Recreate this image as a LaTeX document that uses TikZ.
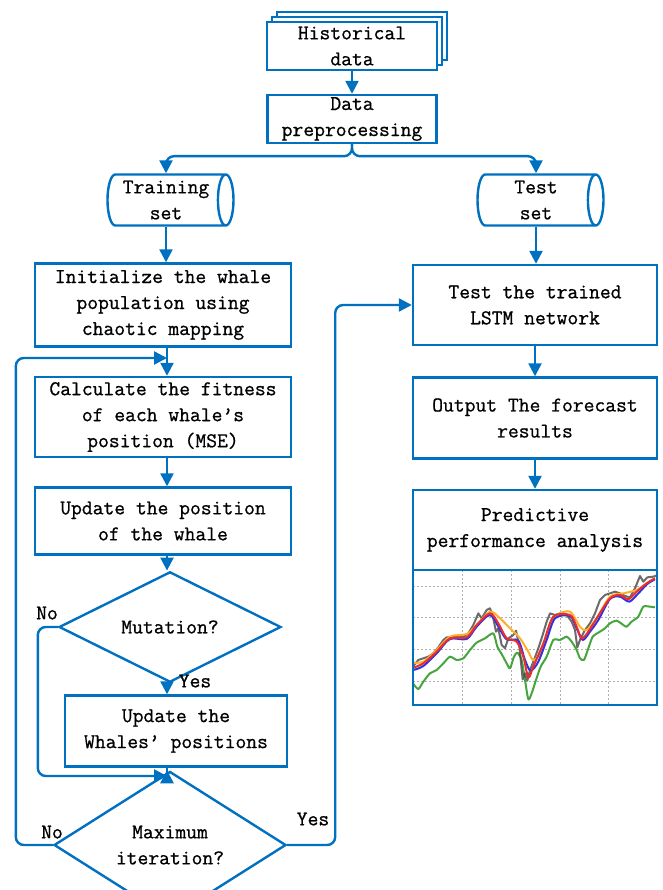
\documentclass[tikz,border=0pt]{standalone}
\usepackage{fontspec}
\usepackage{xcolor}
\usepackage{tikz}
\usetikzlibrary{shapes,arrows.meta,positioning,calc}

\newfontfamily\flowfont{Latin Modern Mono}[FakeBold=0.8]

\definecolor{flowblue}{RGB}{0,112,192}
\definecolor{gridgray}{RGB}{175,175,175}
\definecolor{cgreen}{RGB}{70,165,60}
\definecolor{cred}{RGB}{235,45,45}
\definecolor{cblue}{RGB}{50,50,225}
\definecolor{corange}{RGB}{255,175,45}
\definecolor{cblack}{RGB}{70,70,70}

\begin{document}
\begin{tikzpicture}[
    x=1pt, y=-1pt,
    font=\flowfont\fontsize{21}{26}\selectfont,
    box/.style={rectangle, draw=flowblue, line width=2.4pt, fill=white, text centered, align=center, inner sep=0pt},
    store/.style={cylinder, draw=flowblue, line width=2.4pt, align=center, inner sep=0pt, aspect=0.4, minimum width=51pt, minimum height=126pt},
    decision/.style={diamond, draw=flowblue, line width=2.4pt, align=center, inner sep=0pt},
    arrow/.style={-{Triangle[length=13pt,width=13pt]}, draw=flowblue, line width=2.4pt},
    link/.style={draw=flowblue, line width=2.4pt},
    lbl/.style={inner sep=0pt},
    gridline/.style={draw=gridgray, line width=0.8pt, dash pattern=on 2pt off 2pt},
    curve/.style={line width=2pt, line join=round}
]
\useasboundingbox (0,0) rectangle (662,890);

% Historical data (stacked)
\node[box, minimum width=170pt, minimum height=48pt] (hist2) at (362,36) {};
\node[box, minimum width=170pt, minimum height=48pt] (hist1) at (357,41) {};
\node[box, minimum width=170pt, minimum height=48pt] (hist) at (352,46) {Historical\\data};
\node[box, minimum width=169pt, minimum height=48pt] (prep) at (352,119) {Data\\preprocessing};

% Data sets
\node[store] (train) at (166,200) {Training\\set};
\node[store] (test) at (536,200) {Test\\set};

% Whale optimisation loop
\coordinate (mergeA) at (167,358);
\coordinate (mergeB) at (167,776);
\node[box, minimum width=256pt, minimum height=83pt] (init) at (163,305) {Initialize the whale\\population using\\chaotic mapping};
\node[box, minimum width=256pt, minimum height=80pt] (calc) at (163,417) {Calculate the fitness\\of each whale’s\\position (MSE)};
\node[box, minimum width=256pt, minimum height=67pt] (upd) at (163,521) {Update the position\\of the whale};
\node[decision, minimum width=222pt, minimum height=89pt] (mut) at (170,627) {Mutation?};
\node[box, minimum width=222pt, minimum height=71pt] (whales) at (176,731) {Update the\\Whales’ positions};
\node[decision, minimum width=232pt, minimum height=94pt] (maxit) at (170,845) {Maximum\\iteration?};

% Forecasting
\node[box, minimum width=244pt, minimum height=80pt] (ttest) at (535,305) {Test the trained\\LSTM network};
\node[box, minimum width=244pt, minimum height=81pt] (out) at (535,418) {Output The forecast\\results};
\node[box, minimum width=244pt, minimum height=80pt] (pred) at (535,530) {Predictive\\performance analysis};

% Result chart
\begin{scope}
\clip (413,570) rectangle (657,705);
\begin{scope}[shift={(410,560)}, x=0.3333pt, y=-0.3333pt]
\foreach \gx in {158,305,450,595} \draw[gridline] (\gx,30) -- (\gx,440);
\foreach \gy in {80,172,268,363} \draw[gridline] (10,\gy) -- (745,\gy);
\draw[curve, cgreen] plot[smooth, tension=0.4] coordinates {(10,372) (25,387) (40,365) (60,340) (80,330) (100,310) (120,290) (140,300) (160,295) (180,270) (200,248) (225,235) (250,220) (262,260) (275,282) (290,310) (300,325) (312,290) (322,278) (335,300) (345,360) (355,418) (365,400) (378,360) (392,320) (410,290) (430,240) (450,240) (470,230) (485,245) (500,270) (510,295) (522,300) (535,265) (548,230) (565,218) (585,205) (600,190) (620,182) (640,195) (650,200) (665,185) (685,170) (700,140) (720,140) (735,142)};
\draw[curve, cblack, opacity=0.8] plot coordinates {(10,318) (25,300) (40,295) (55,290) (70,280) (85,262) (100,240) (110,232) (125,232) (140,228) (160,230) (175,220) (190,195) (205,160) (215,175) (230,150) (240,145) (250,175) (258,215) (265,205) (275,255) (285,265) (295,235) (310,225) (318,212) (328,258) (338,358) (345,340) (352,362) (360,330) (372,300) (385,265) (398,225) (410,185) (420,160) (435,165) (450,160) (470,165) (485,185) (495,210) (502,262) (510,240) (525,210) (540,190) (555,160) (570,120) (585,105) (600,100) (615,95) (630,100) (645,108) (660,112) (675,85) (690,48) (700,65) (712,52) (730,50) (745,45)};
\draw[curve, corange] plot[smooth, tension=0.5] coordinates {(10,308) (40,305) (80,270) (120,230) (170,222) (200,195) (240,155) (270,175) (300,205) (330,235) (355,275) (370,300) (395,275) (420,200) (440,165) (480,155) (510,200) (530,210) (560,175) (600,110) (640,100) (680,90) (710,70) (735,55)};
\draw[curve, cblue] plot[smooth, tension=0.5] coordinates {(10,330) (40,318) (80,280) (120,237) (170,237) (200,200) (240,165) (268,205) (290,238) (325,242) (345,300) (362,332) (385,305) (410,240) (435,175) (480,168) (500,205) (518,240) (540,215) (565,180) (600,117) (630,110) (658,125) (685,100) (712,72) (735,58)};
\draw[curve, cred] plot[smooth, tension=0.5] coordinates {(10,323) (40,310) (80,275) (120,235) (170,232) (200,195) (240,160) (265,190) (290,235) (320,245) (340,290) (355,352) (370,320) (400,250) (430,170) (480,165) (500,200) (515,235) (535,215) (560,175) (600,115) (630,105) (655,118) (680,95) (710,70) (735,55)};
\end{scope}
\end{scope}
\node[box, fill=none, minimum width=244pt, minimum height=135pt, anchor=north] (chart) at ([yshift=2.4pt]pred.south) {};

% Connections
\draw[arrow] (hist) -- (prep);
\draw[arrow, rounded corners=8pt] (prep.south) -- ++(0,12) -| (train.north);
\draw[arrow, rounded corners=8pt] (prep.south) -- ++(0,12) -| (test.north);
\draw[arrow] (train.south) -- (train.south |- init.north);
\draw[arrow] (test.south) -- (test.south |- ttest.north);
\draw[arrow] (init.south -| mergeA) -- (calc.north -| mergeA);
\draw[arrow] (calc.south -| mergeA) -- (upd.north -| mergeA);
\draw[arrow] (upd.south -| mergeA) -- (mut.north -| mergeA);
\draw[arrow] (mut.south -| mergeA) -- (whales.north -| mergeA);
\draw[link] (mergeB |- whales.south) -- (mergeB);
\draw[arrow] (mergeB) -- (maxit.north -| mergeB);
\draw[arrow] (ttest) -- (out);
\draw[arrow] (out) -- (pred);

% Decision branches
\draw[arrow, rounded corners=8pt] (mut.west) -- ++(-20,0) |- (mergeB);
\draw[arrow, rounded corners=8pt] (maxit.west) -- ++(-37,0) |- (mergeA);
\draw[arrow, rounded corners=8pt] (maxit.east) -- ++(48,0) |- (ttest.west);
\node[lbl] (mutno) at (47,613) {No};
\node[lbl] (mutyes) at (195,681) {Yes};
\node[lbl] (maxno) at (52,832) {No};
\node[lbl] (maxyes) at (313,819) {Yes};

\end{tikzpicture}
\end{document}
